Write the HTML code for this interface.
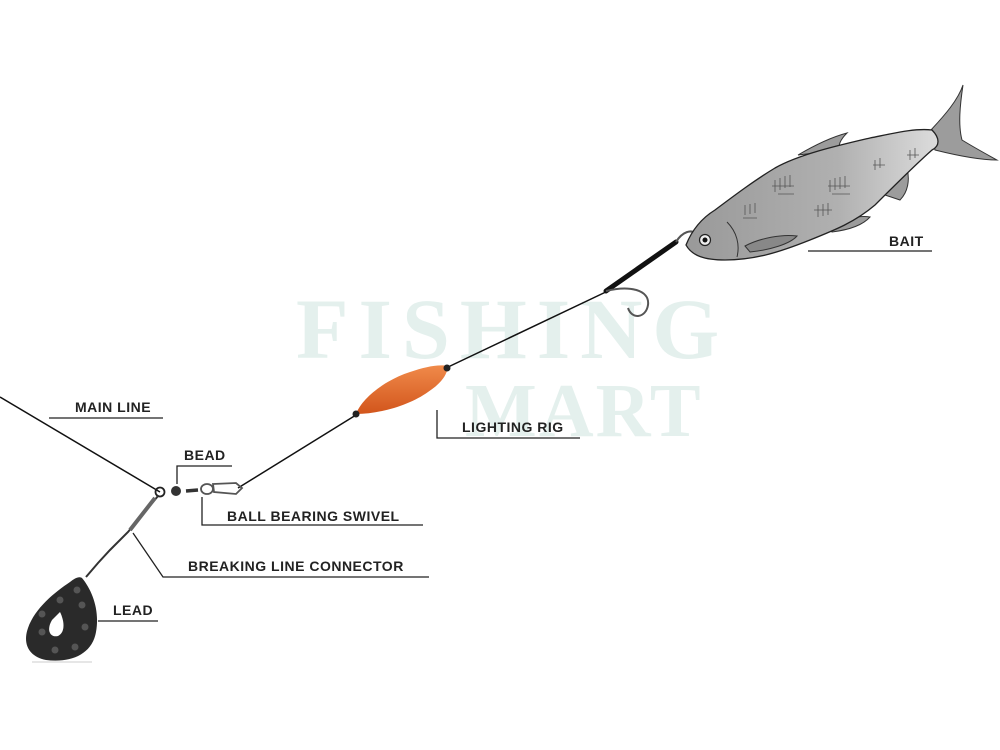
<!DOCTYPE html>
<html><head><meta charset="utf-8"><style>
html,body{margin:0;padding:0;background:#fff;}
svg{display:block}
.l{font-family:"Liberation Sans",sans-serif;font-weight:bold;font-size:14px;fill:#222;letter-spacing:0.5px}
.w{font-family:"Liberation Serif",serif;font-weight:bold;fill:#e4f0ed}
</style></head><body>
<svg width="1000" height="750" viewBox="0 0 1000 750" xmlns="http://www.w3.org/2000/svg">
<defs>
<linearGradient id="fg" x1="0" y1="0" x2="1" y2="0">
<stop offset="0" stop-color="#999"/><stop offset="0.6" stop-color="#b0b0b0"/><stop offset="1" stop-color="#dcdcdc"/>
</linearGradient>
<linearGradient id="og" x1="0" y1="0" x2="0" y2="1">
<stop offset="0" stop-color="#f08a4a"/><stop offset="1" stop-color="#d2551c"/>
</linearGradient>
</defs>
<text class="w" x="296" y="358" font-size="86" letter-spacing="10">FISHING</text>
<text class="w" x="465" y="436" font-size="76" letter-spacing="2">MART</text>

<line x1="0" y1="397" x2="160" y2="492" stroke="#111" stroke-width="1.5"/>
<line x1="238" y1="488" x2="356" y2="415" stroke="#111" stroke-width="1.5"/>
<line x1="446" y1="368" x2="610" y2="290" stroke="#111" stroke-width="1.5"/>

<!-- float -->
<path d="M356 414 C362 398,385 380,410 372 C425 367,438 364,448 366 C447 376,440 384,428 392 C410 405,380 414,356 414Z" fill="url(#og)"/>
<circle cx="356" cy="414" r="3.5" fill="#222"/>
<circle cx="447" cy="368" r="3.5" fill="#222"/>

<!-- hook -->
<path d="M606 291 L676 242" stroke="#111" stroke-width="5" stroke-linecap="round"/>
<path d="M676 242 C682 232,692 228,697 235 C700 240,696 248,690 248" stroke="#555" stroke-width="2" fill="none"/>
<path d="M606 291 C630 285,650 290,648 305 C646 318,632 320,628 308" stroke="#555" stroke-width="2" fill="none"/>

<!-- fish fins -->
<path d="M930 131 C945 115,958 100,963 85 C960 105,958 125,962 140 C975 148,988 155,997 160 C980 160,955 155,935 150 Z" fill="#9c9c9c" stroke="#333" stroke-width="1"/>
<path d="M798 155 C815 145,832 137,847 133 C840 140,838 146,840 150Z" fill="#9c9c9c" stroke="#333" stroke-width="1"/>
<path d="M885 195 C895 185,903 175,907 168 C910 180,908 192,900 200Z" fill="#9c9c9c" stroke="#333" stroke-width="1"/>
<path d="M825 228 C840 220,858 215,870 217 C862 226,848 230,832 232Z" fill="#9c9c9c" stroke="#333" stroke-width="1"/>
<!-- fish body -->
<path d="M686 245 C692 230,702 218,715 210 C735 195,755 180,775 168 C800 154,840 145,870 138 C895 133,915 128,932 130 C940 138,940 146,932 150 C915 165,895 185,875 205 C855 222,835 230,810 240 C780 252,755 260,725 260 C705 260,692 256,686 245Z" fill="url(#fg)" stroke="#222" stroke-width="1.3"/>
<path d="M745 246 C760 238,782 234,797 236 C790 244,770 250,750 252Z" fill="#888" stroke="#333" stroke-width="1"/>
<circle cx="705" cy="240" r="5.5" fill="#eee" stroke="#222" stroke-width="1.2"/>
<circle cx="705" cy="240" r="2.5" fill="#111"/>
<path d="M727 222 C737 232,740 245,737 257" stroke="#333" stroke-width="1" fill="none"/>
<g stroke="#555" stroke-width="0.8" fill="none">
<path d="M745 205 v10 M750 204 v10 M755 203 v10 M743 218 h14 M775 180 v12 M780 178 v12 M785 176 v12 M790 175 v12 M772 186 h22 M778 194 h16 M830 180 v12 M835 178 v12 M840 177 v12 M845 176 v12 M828 186 h22 M832 194 h18 M818 205 v12 M823 204 v12 M828 203 v12 M814 210 h18 M875 160 v10 M880 158 v10 M873 165 h12 M910 150 v10 M915 148 v10 M907 155 h12"/>
</g>

<!-- swivel & bead -->
<circle cx="160" cy="492" r="4.5" fill="none" stroke="#222" stroke-width="1.8"/>
<circle cx="176" cy="491" r="5" fill="#333"/>
<path d="M186 491 L198 490" stroke="#333" stroke-width="3.5"/>
<ellipse cx="207" cy="489" rx="6" ry="5" fill="none" stroke="#555" stroke-width="1.8"/>
<path d="M213 484 L236 483 L242 488 L236 494 L214 492Z" fill="none" stroke="#555" stroke-width="1.8"/>

<!-- chain to lead -->
<path d="M158 496 L128 532 L110 550 L98 563 L86 577" stroke="#333" stroke-width="2" fill="none"/>
<path d="M155 498 L130 530" stroke="#666" stroke-width="4"/>

<!-- lead -->
<path d="M82 578 C92 590,100 610,96 632 C92 655,70 663,46 660 C30 657,22 645,28 628 C35 608,55 592,70 582 C75 578,79 576,82 578Z" fill="#2a2a2a"/>
<path d="M60 612 C64 620,66 632,58 636 C50 638,46 630,52 620Z" fill="#fff"/>
<g fill="#555"><circle cx="77" cy="590" r="3.5"/><circle cx="60" cy="600" r="3.5"/><circle cx="82" cy="605" r="3.5"/><circle cx="42" cy="614" r="3.5"/><circle cx="85" cy="627" r="3.5"/><circle cx="42" cy="632" r="3.5"/><circle cx="55" cy="650" r="3.5"/><circle cx="75" cy="647" r="3.5"/></g>
<line x1="32" y1="662" x2="92" y2="662" stroke="#ccc" stroke-width="1"/>

<g stroke="#222" stroke-width="1.3" fill="none">
<path d="M49 418 H163"/>
<path d="M177 484 V466 H232"/>
<path d="M202 497 V525 H423"/>
<path d="M133 533 L163 577 H429"/>
<path d="M98 621 H158"/>
<path d="M437 410 V438 H580"/>
<path d="M808 251 H932"/>
</g>
<text class="l" x="75" y="412">MAIN LINE</text>
<text class="l" x="184" y="460">BEAD</text>
<text class="l" x="227" y="521">BALL BEARING SWIVEL</text>
<text class="l" x="188" y="571">BREAKING LINE CONNECTOR</text>
<text class="l" x="113" y="615">LEAD</text>
<text class="l" x="462" y="432">LIGHTING RIG</text>
<text class="l" x="889" y="246">BAIT</text>
</svg>
</body></html>
